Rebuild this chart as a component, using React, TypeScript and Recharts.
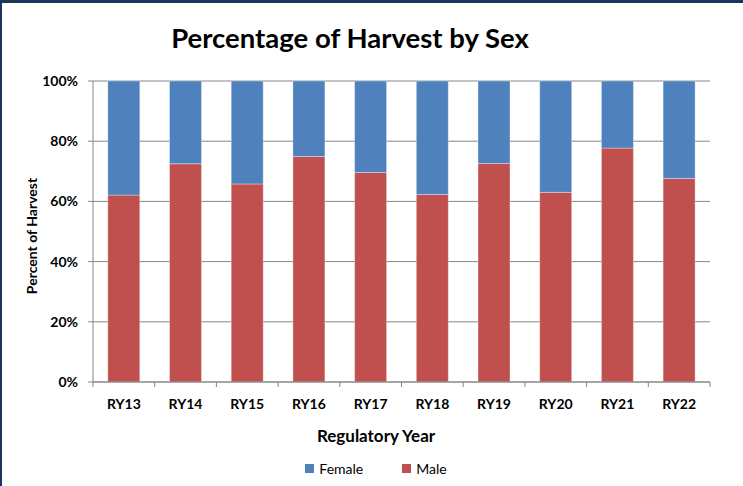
import { Bar, BarChart, CartesianGrid, Legend, XAxis, YAxis } from "recharts";

const YEARS = ["RY13", "RY14", "RY15", "RY16", "RY17", "RY18", "RY19", "RY20", "RY21", "RY22"];
const MALE = [62.1, 72.5, 65.8, 74.9, 69.6, 62.3, 72.6, 63.0, 77.7, 67.6];
const FEMALE = [37.9, 27.5, 34.2, 25.1, 30.4, 37.7, 27.4, 37.0, 22.3, 32.4];
const Y_TICKS = [0, 20, 40, 60, 80, 100];

const W = 743;
const H = 486;
const PLOT_LEFT = 93;
const PLOT_RIGHT = 710;
const FONT = "Lato, 'Open Sans', sans-serif";
const BLUE = "#4f81bd";
const RED = "#c0504d";
const GRID = "#868686";
const NAVY = "#1b365d";

const data = YEARS.map((year, i) => ({ year, male: MALE[i], female: FEMALE[i] }));

// Excel draws the category ticks between the columns, not under them.
function CategoryTick(props: any) {
  const { x, y, payload, index } = props;
  const step = (PLOT_RIGHT - PLOT_LEFT) / YEARS.length;
  return (
    <g>
      <line x1={x - step / 2} x2={x - step / 2} y1={y} y2={y + 5} stroke={GRID} />
      {index === YEARS.length - 1 && (
        <line x1={x + step / 2} x2={x + step / 2} y1={y} y2={y + 5} stroke={GRID} />
      )}
      <text x={x} y={y + 27} textAnchor="middle" fontFamily={FONT} fontWeight={700} fontSize={14} fill="#000">
        {payload.value}
      </text>
    </g>
  );
}

function LegendBox() {
  const items = [
    { name: "Female", color: BLUE },
    { name: "Male", color: RED },
  ];
  return (
    <div
      style={{
        height: 28,
        display: "flex",
        alignItems: "center",
        justifyContent: "center",
        gap: 39,
        paddingLeft: 9,
        fontFamily: FONT,
        fontSize: 14,
        color: "#000",
      }}
    >
      {items.map((it) => (
        <span key={it.name} style={{ display: "flex", alignItems: "center", gap: 5 }}>
          <span style={{ width: 9, height: 9, background: it.color, display: "inline-block" }} />
          {it.name}
        </span>
      ))}
    </div>
  );
}

export default function App() {
  return (
    <div style={{ position: "absolute", left: 0, top: 0, width: W, height: H, background: "#fff", overflow: "hidden" }}>
      <BarChart width={W} height={H} data={data} margin={{ top: 81, right: 33, left: 0, bottom: 4 }} barCategoryGap="24%">
        <CartesianGrid vertical={false} stroke={GRID} />
        <XAxis
          dataKey="year"
          height={72}
          tickSize={0}
          tickMargin={0}
          tickLine={false}
          axisLine={{ stroke: GRID }}
          tick={<CategoryTick />}
          interval={0}
        />
        <YAxis
          width={93}
          domain={[0, 100]}
          ticks={Y_TICKS}
          tickFormatter={(v) => `${v}%`}
          tickSize={5}
          tickMargin={10}
          axisLine={{ stroke: GRID }}
          tickLine={{ stroke: GRID }}
          tick={{ fontFamily: FONT, fontWeight: 700, fontSize: 14, fill: "#000" }}
        />
        <Legend verticalAlign="bottom" wrapperStyle={{ left: 0, width: W }} content={<LegendBox />} />
        <Bar dataKey="male" name="Male" stackId="a" fill={RED} stroke="rgba(255,255,255,0.35)" isAnimationActive={false} />
        <Bar dataKey="female" name="Female" stackId="a" fill={BLUE} stroke="rgba(255,255,255,0.35)" isAnimationActive={false} />
      </BarChart>

      <svg width={W} height={H} style={{ position: "absolute", left: 0, top: 0, pointerEvents: "none" }}>
        <text x={350} y={48} textAnchor="middle" fontFamily={FONT} fontWeight={700} fontSize={27.5} fill="#000">
          Percentage of Harvest by Sex
        </text>
        <text
          x={37}
          y={236}
          transform="rotate(-90 37 236)"
          textAnchor="middle"
          fontFamily={FONT}
          fontWeight={700}
          fontSize={14}
          fill="#000"
        >
          Percent of Harvest
        </text>
        <text x={376} y={442} textAnchor="middle" fontFamily={FONT} fontWeight={700} fontSize={17} fill="#000">
          Regulatory Year
        </text>
      </svg>

      <div style={{ position: "absolute", left: 0, top: 0, width: W, height: 3, background: NAVY }} />
      <div style={{ position: "absolute", left: 0, top: 0, width: 2, height: H, background: NAVY }} />
    </div>
  );
}
